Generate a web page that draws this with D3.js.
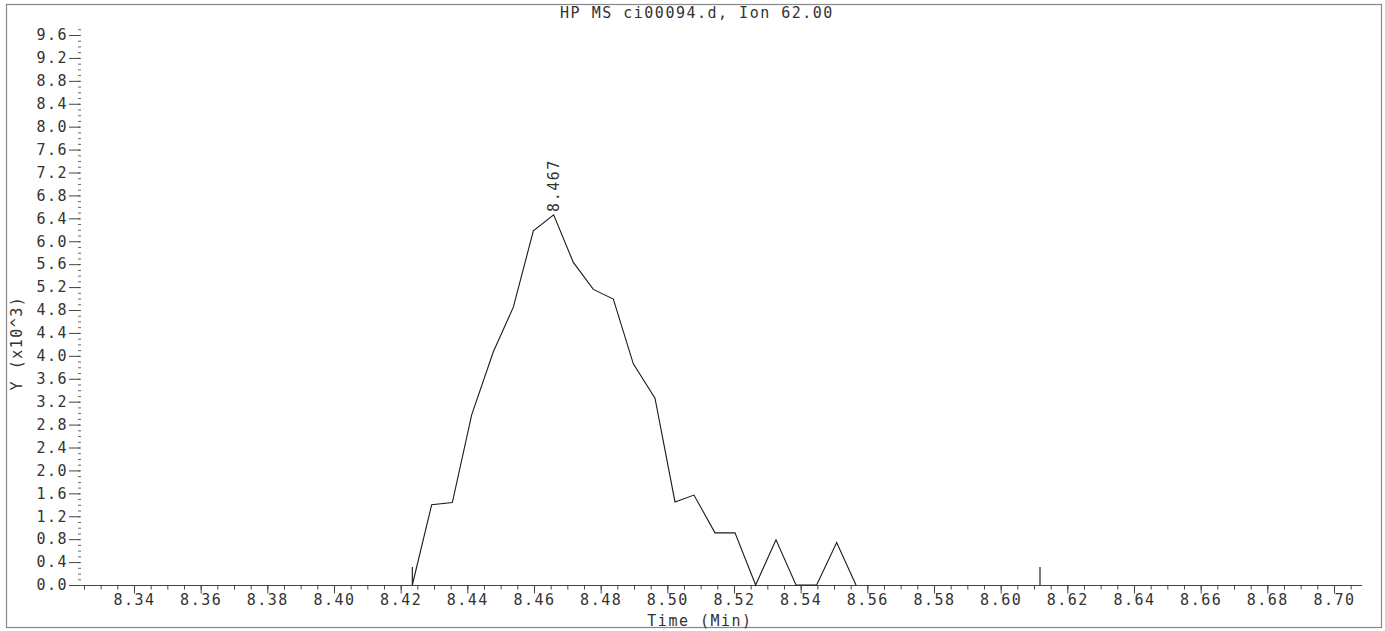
<!DOCTYPE html>
<html>
<head>
<meta charset="utf-8">
<script src="https://cdn.jsdelivr.net/npm/d3@7"></script>
<style>
  body { margin: 0; background: #fff; }
  svg text { font-family: "DejaVu Sans Mono", "Liberation Mono", monospace; fill: #333; }
</style>
</head>
<body>
<script>
(function (d3) {
	'use strict';

	var width = 1385,
	    height = 631;

	// scan data: time (min) and abundance (x10^3)
	var times = [8.4235, 8.4293, 8.4355, 8.4413, 8.4478, 8.4538, 8.4598, 8.4659,
	             8.4718, 8.4778, 8.4838, 8.4898, 8.4963, 8.5023, 8.5080, 8.5143,
	             8.5203, 8.5265, 8.5326, 8.5386, 8.5448, 8.5508, 8.5566];
	var values = [0.00, 1.40, 1.44, 2.97, 4.07, 4.85, 6.18, 6.46,
	              5.63, 5.16, 4.99, 3.86, 3.26, 1.45, 1.57, 0.91,
	              0.91, 0.00, 0.79, 0.00, 0.00, 0.74, 0.00];

	// integration markers on the baseline
	var markerTimes = [8.4235, 8.6118];

	// peak annotation
	var peakTime = 8.4659,
	    peakValue = 6.46,
	    peakLabel = '8.467';

	var xTicks = [8.34, 8.36, 8.38, 8.40, 8.42, 8.44, 8.46, 8.48, 8.50, 8.52,
	              8.54, 8.56, 8.58, 8.60, 8.62, 8.64, 8.66, 8.68, 8.70];
	var yTicks = [0.0, 0.4, 0.8, 1.2, 1.6, 2.0, 2.4, 2.8, 3.2, 3.6, 4.0, 4.4, 4.8,
	              5.2, 5.6, 6.0, 6.4, 6.8, 7.2, 7.6, 8.0, 8.4, 8.8, 9.2, 9.6];

	var title = 'HP MS ci00094.d, Ion 62.00',
	    xTitle = 'Time (Min)',
	    yTitle = 'Y (x10^3)';

	var svg = d3.select('body')
		.append('svg')
		.attr('width', width)
		.attr('height', height);

	// outer frame
	svg.append('rect')
		.attr('x', 6.5)
		.attr('y', 4.5)
		.attr('width', 1375)
		.attr('height', 623)
		.attr('fill', 'none')
		.attr('stroke', '#888')
		.attr('stroke-width', 1.2);

	var x = d3.scaleLinear()
		.domain([8.3238, 8.7084])
		.range([80, 1362]);

	var y = d3.scaleLinear()
		.domain([0, 9.6])
		.range([585, 35]);

	// minor x ticks every 0.005
	var xMinor = d3.range(0, 77).map(function (i) { return +(8.325 + i * 0.005).toFixed(3); });
	svg.append('g')
		.attr('transform', 'translate(0,585.5)')
		.call(d3.axisBottom(x).tickValues(xMinor).tickSize(4).tickFormat(''))
		.call(function (g) { g.select('.domain').remove(); })
		.selectAll('line').attr('stroke', '#444');

	var xAxis = svg.append('g')
		.attr('transform', 'translate(0,585.5)')
		.call(d3.axisBottom(x)
			.tickValues(xTicks)
			.tickSize(8)
			.tickPadding(1)
			.tickFormat(d3.format('.2f')));
	xAxis.select('.domain').attr('stroke', '#444').attr('d', 'M80,0H1362');
	xAxis.selectAll('line').attr('stroke', '#444');
	xAxis.selectAll('text')
		.attr('font-size', 15)
		.attr('letter-spacing', 1.5)
		.attr('dy', '0.72em');

	// minor y ticks every 0.1
	var yMinor = d3.range(0, 98).map(function (i) { return +(i * 0.1).toFixed(1); });
	svg.append('g')
		.attr('transform', 'translate(81,0)')
		.call(d3.axisLeft(y).tickValues(yMinor).tickSize(3).tickFormat(''))
		.call(function (g) { g.select('.domain').remove(); })
		.selectAll('line').attr('stroke', '#666');

	var yAxis = svg.append('g')
		.attr('transform', 'translate(80,0)')
		.call(d3.axisLeft(y)
			.tickValues(yTicks)
			.tickSize(11)
			.tickPadding(1)
			.tickFormat(d3.format('.1f')));
	yAxis.select('.domain').remove();
	yAxis.selectAll('line').attr('stroke', '#444');
	yAxis.selectAll('text')
		.attr('font-size', 15)
		.attr('letter-spacing', 1.5);

	// trace
	var line = d3.line()
		.x(function (d, i) { return x(times[i]); })
		.y(function (d) { return y(d); });

	svg.append('path')
		.datum(values)
		.attr('d', line)
		.attr('fill', 'none')
		.attr('stroke', '#1a1a1a')
		.attr('stroke-width', 1.1);

	// baseline markers
	svg.selectAll('line.marker')
		.data(markerTimes)
		.enter()
		.append('line')
		.attr('class', 'marker')
		.attr('x1', function (d) { return x(d); })
		.attr('x2', function (d) { return x(d); })
		.attr('y1', y(0))
		.attr('y2', y(0) - 18)
		.attr('stroke', '#222')
		.attr('stroke-width', 1.2);

	// peak label, rotated
	svg.append('text')
		.attr('transform', 'translate(' + (x(peakTime) + 5) + ',' + (y(peakValue) - 3) + ') rotate(-90)')
		.attr('font-size', 15)
		.attr('letter-spacing', 1.5)
		.attr('text-anchor', 'start')
		.text(peakLabel);

	// titles
	svg.append('text')
		.attr('x', 697)
		.attr('y', 18)
		.attr('text-anchor', 'middle')
		.attr('font-size', 15)
		.attr('letter-spacing', 1.5)
		.text(title);

	svg.append('text')
		.attr('x', 700)
		.attr('y', 626)
		.attr('text-anchor', 'middle')
		.attr('font-size', 15)
		.attr('letter-spacing', 1.5)
		.text(xTitle);

	svg.append('text')
		.attr('transform', 'translate(22,343) rotate(-90)')
		.attr('text-anchor', 'middle')
		.attr('font-size', 15)
		.attr('letter-spacing', 1.5)
		.text(yTitle);

})(d3);
</script>
</body>
</html>
